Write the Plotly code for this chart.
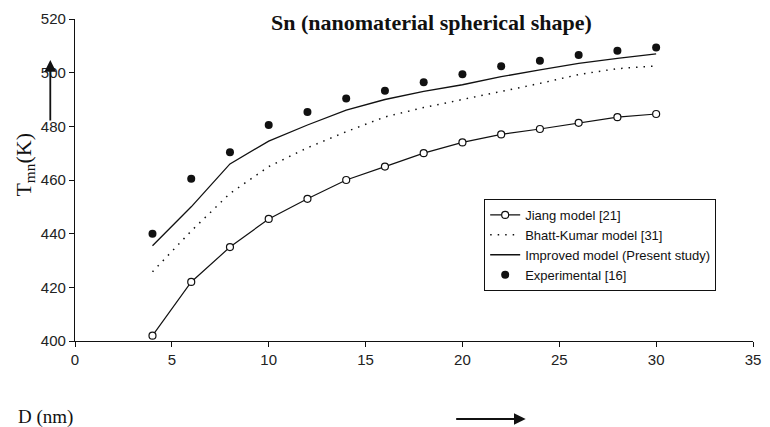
import plotly.graph_objects as go

D = [4, 6, 8, 10, 12, 14, 16, 18, 20, 22, 24, 26, 28, 30]
jiang = [402, 422, 435, 445.5, 453, 460, 465, 470, 474, 477, 479, 481.3, 483.4, 484.6]
bhatt = [425.8, 441, 455, 465, 472, 478, 483.5, 487, 490, 493, 496, 499.3, 501.5, 502.5]
improved = [435.5, 450, 466, 474.5, 480.5, 486, 490, 493, 495.5, 498.5, 501, 503.5, 505.3, 507]
experimental = [440, 460.5, 470.3, 480.5, 485.3, 490.4, 493.3, 496.4, 499.4, 502.4, 504.4, 506.6, 508.2, 509.4]

names = ["Jiang model [21]", "Bhatt-Kumar model [31]", "Improved model (Present study)", "Experimental [16]"]
x_ticks = [0, 5, 10, 15, 20, 25, 30, 35]
y_ticks = [400, 420, 440, 460, 480, 500, 520]

ink = "#111111"
fig = go.Figure()
fig.add_trace(go.Scatter(x=D, y=jiang, name=names[0], mode="lines+markers",
                         line=dict(color=ink, width=1.2),
                         marker=dict(symbol="circle", size=7, color="white",
                                     line=dict(color=ink, width=1.2))))
fig.add_trace(go.Scatter(x=D, y=bhatt, name=names[1], mode="lines",
                         line=dict(color=ink, width=1.5, dash="1.5px,6px")))
fig.add_trace(go.Scatter(x=D, y=improved, name=names[2], mode="lines",
                         line=dict(color=ink, width=1.3)))
fig.add_trace(go.Scatter(x=D, y=experimental, name=names[3], mode="markers",
                         marker=dict(symbol="circle", size=8, color=ink)))

tickfont = dict(family="Liberation Sans, Arial", size=15, color="#222222")
fig.update_xaxes(range=[0, 35], tickvals=x_ticks, showline=True, linecolor=ink, linewidth=1.3,
                 ticks="outside", ticklen=5, tickcolor=ink, showgrid=False, zeroline=False,
                 tickfont=tickfont)
fig.update_yaxes(range=[400, 520], tickvals=y_ticks, showline=True, linecolor=ink, linewidth=1.3,
                 ticks="outside", ticklen=5, tickcolor=ink, showgrid=False, zeroline=False,
                 tickfont=tickfont)

fig.update_layout(
    width=770, height=427,
    margin=dict(l=75, r=9, t=19, b=86),
    plot_bgcolor="white", paper_bgcolor="white",
    showlegend=True,
    legend=dict(x=0.6035, y=0.441, xanchor="left", yanchor="top",
                bordercolor=ink, borderwidth=1, bgcolor="white",
                font=dict(family="Liberation Sans, Arial", size=13, color=ink),
                tracegroupgap=3, traceorder="normal"),
    annotations=[
        dict(text="<b>Sn (nanomaterial spherical shape)</b>", xref="paper", yref="paper",
             x=0.5255, y=0.9876, xanchor="center", yanchor="middle", showarrow=False,
             font=dict(family="Liberation Serif, Times New Roman", size=22, color=ink)),
        dict(text="T<sub>mn</sub>(K)", xref="paper", yref="paper", textangle=-90,
             x=(24 - 75) / 686, y=(341 - 165) / 322, xanchor="center", yanchor="middle",
             showarrow=False,
             font=dict(family="Liberation Serif, Times New Roman", size=22, color=ink)),
        dict(text="D (nm)", xref="paper", yref="paper",
             x=(45 - 75) / 686, y=(341 - 417) / 322, xanchor="center", yanchor="middle",
             showarrow=False,
             font=dict(family="Liberation Serif, Times New Roman", size=19, color=ink)),
        dict(text="", xref="paper", yref="paper", x=(50 - 75) / 686, y=(341 - 60) / 322,
             ax=0, ay=62, showarrow=True, arrowhead=2, arrowsize=1.3, arrowwidth=1.8,
             arrowcolor=ink),
        dict(text="", xref="paper", yref="paper", x=(531 - 75) / 686, y=(341 - 419) / 322,
             ax=-71, ay=0, showarrow=True, arrowhead=2, arrowsize=1.3, arrowwidth=1.8,
             arrowcolor=ink),
    ],
)

fig.write_html("out.html")
